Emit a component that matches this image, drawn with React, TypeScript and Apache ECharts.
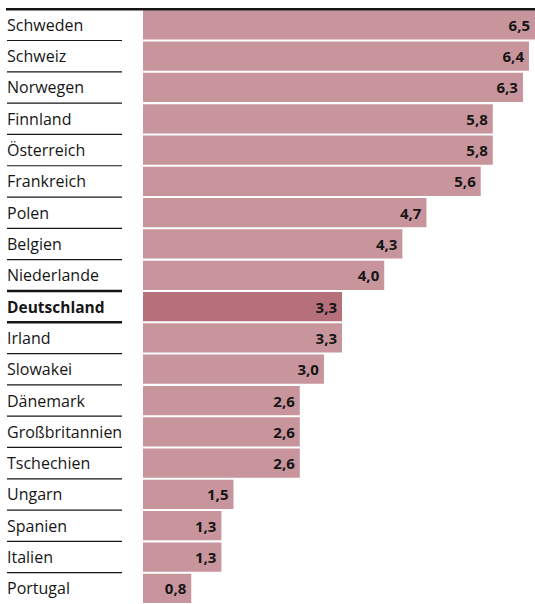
import React, { useEffect, useRef } from "react";
import * as echarts from "echarts";

const countries = [
  "Schweden", "Schweiz", "Norwegen", "Finnland", "Österreich", "Frankreich",
  "Polen", "Belgien", "Niederlande", "Deutschland", "Irland", "Slowakei",
  "Dänemark", "Großbritannien", "Tschechien", "Ungarn", "Spanien", "Italien", "Portugal",
];
const values = [6.5, 6.4, 6.3, 5.8, 5.8, 5.6, 4.7, 4.3, 4.0, 3.3, 3.3, 3.0, 2.6, 2.6, 2.6, 1.5, 1.3, 1.3, 0.8];
const highlight = "Deutschland";

const BAR = "#c8959d";
const BAR_HI = "#b5707c";
const INK = "#161616";
const FONT = "'Open Sans', 'Noto Sans', sans-serif";

export default function App() {
  const ref = useRef<HTMLDivElement>(null);
  useEffect(() => {
    if (!ref.current) return;
    const chart = echarts.init(ref.current, undefined, { renderer: "svg" });
    const hiIdx = countries.indexOf(highlight);
    const n = countries.length;
    chart.setOption({
      animation: false,
      textStyle: { fontFamily: FONT },
      grid: { left: 143, right: -2, top: 9.2, bottom: -3.7, containLabel: false },
      xAxis: { type: "value", min: 0, max: 6.5, show: false },
      yAxis: {
        type: "category",
        inverse: true,
        data: countries,
        axisLine: { show: false },
        axisTick: { show: false },
        splitLine: { show: false },
        axisLabel: {
          align: "left",
          margin: 136,
          fontSize: 16,
          color: INK,
          fontFamily: FONT,
          formatter: (v: string) => (v === highlight ? `{b|${v}}` : v),
          rich: { b: { fontWeight: "bold", fontSize: 15.5, color: INK, fontFamily: FONT } },
        },
      },
      series: [
        {
          type: "bar",
          barCategoryGap: "6.5%",
          data: values.map((v, i) => ({
            value: v,
            itemStyle: { color: i === hiIdx ? BAR_HI : BAR },
          })),
          label: {
            show: true,
            position: "insideRight",
            distance: 5,
            fontSize: 15,
            fontWeight: "bold",
            color: INK,
            fontFamily: FONT,
            formatter: (p: any) => Number(p.value).toFixed(1).replace(".", ","),
          },
        },
        {
          type: "custom",
          silent: true,
          clip: false,
          z: 5,
          data: countries.map((_, i) => [0, i]),
          encode: { x: 0, y: 1 },
          renderItem: (params: any, api: any) => {
            const idx = params.dataIndex;
            const c = api.coord([0, idx]);
            const bh = api.size([0, 1])[1];
            const children: any[] = [];
            if (idx === 0) {
              children.push({
                type: "line",
                shape: { x1: 6, y1: c[1] - bh / 2, x2: 535, y2: c[1] - bh / 2 },
                style: { stroke: INK, lineWidth: 2.5 },
              });
            }
            if (idx < n - 1) {
              const thick = idx === hiIdx || idx === hiIdx - 1;
              children.push({
                type: "line",
                shape: { x1: 7, y1: c[1] + bh / 2, x2: 122, y2: c[1] + bh / 2 },
                style: { stroke: INK, lineWidth: thick ? 2.5 : 1.2 },
              });
            }
            return { type: "group", children };
          },
        },
      ],
    });
    return () => chart.dispose();
  }, []);
  return (
    <div
      ref={ref}
      style={{ position: "absolute", left: 0, top: 0, width: 535, height: 604 }}
    />
  );
}
